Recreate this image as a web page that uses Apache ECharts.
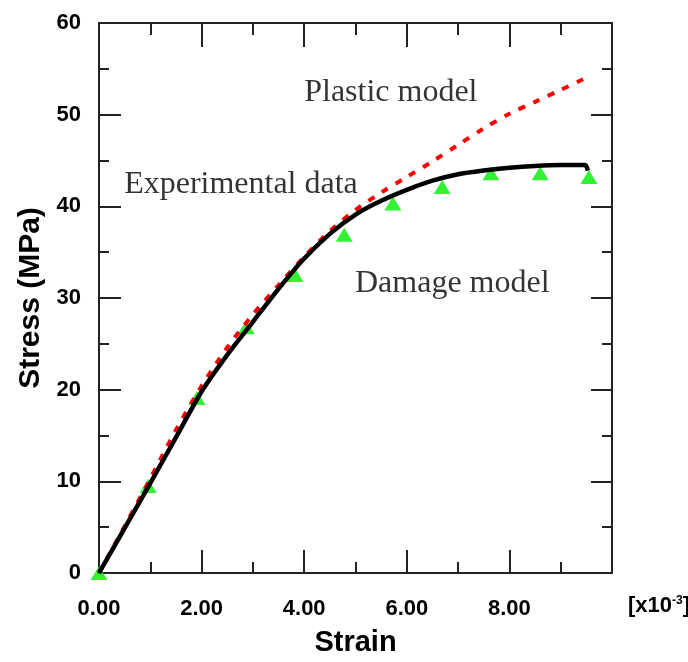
<!DOCTYPE html>
<html>
<head>
<meta charset="utf-8">
<script src="https://cdn.jsdelivr.net/npm/echarts@6/dist/echarts.min.js"></script>
<style>html,body{margin:0;padding:0;background:#fff;}#chart{width:688px;height:662px;}</style>
</head>
<body>
<div id="chart"></div>
<script>
// Damage model (solid black)
const strainDamage = [0, 0.5, 1, 1.5, 2, 2.5, 3, 3.5, 4, 4.5, 5, 5.5, 6, 6.5, 7, 7.5, 8, 8.5, 9, 9.48, 9.53];
const stressDamage = [0, 4.9, 9.8, 14.8, 19.8, 23.8, 27.4, 31.0, 34.3, 37.0, 39.1, 40.6, 41.8, 42.8, 43.5, 43.9, 44.2, 44.4, 44.5, 44.5, 43.9];
// Plastic model (red dashed)
const strainPlastic = [0, 0.5, 1, 1.5, 2, 2.5, 3, 3.5, 4, 4.5, 5, 5.5, 6, 6.5, 7, 7.5, 8, 8.5, 9, 9.45];
const stressPlastic = [0, 5.1, 10.3, 15.6, 20.4, 24.6, 28.2, 31.4, 34.5, 37.3, 39.6, 41.5, 43.2, 44.9, 46.7, 48.5, 50.1, 51.4, 52.7, 53.9];
// Experimental data (green triangles)
const strainExp = [0, 0.96, 1.91, 2.87, 3.82, 4.78, 5.73, 6.69, 7.64, 8.6, 9.55];
const stressExp = [0, 9.5, 19.1, 26.8, 32.5, 36.9, 40.3, 42.1, 43.6, 43.6, 43.2];
// Axis ticks
const xTicks = [0, 2, 4, 6, 8];
const yTicks = [0, 10, 20, 30, 40, 50, 60];
// Annotation texts and their anchor (data coords)
const annoTexts = ['Plastic model', 'Experimental data', 'Damage model'];
const annoX = [4.0, 0.49, 4.99];
const annoY = [52.4, 42.4, 31.6];

const zip = (a, b) => a.map((v, i) => [v, b[i]]);
const sansB = "'Liberation Sans', Arial, sans-serif";
const serif = "'Liberation Serif', 'Times New Roman', serif";
const axColor = '#222';

const chart = echarts.init(document.getElementById('chart'), null, {renderer: 'canvas'});
const baseAxis = {
  axisLine: {show: true, onZero: false, lineStyle: {color: axColor, width: 2}},
  splitLine: {show: false},
};
chart.setOption({
  backgroundColor: '#fff',
  animation: false,
  grid: {left: 99, right: 76, top: 23, bottom: 89},
  xAxis: [
    Object.assign({}, baseAxis, {
      type: 'value', min: 0, max: 10, interval: 2, position: 'bottom',
      axisTick: {show: true, inside: true, length: 23, lineStyle: {color: axColor, width: 2}},
      minorTick: {show: true, splitNumber: 2, length: 11, lineStyle: {color: axColor, width: 2}},
      axisLabel: {
        margin: 25, color: '#000', fontFamily: sansB, fontWeight: 'bold', fontSize: 22,
        formatter: v => (xTicks.indexOf(v) >= 0 ? v.toFixed(2) : '')
      },
      name: 'Strain', nameLocation: 'middle', nameGap: 55,
      nameTextStyle: {color: '#000', fontFamily: sansB, fontWeight: 'bold', fontSize: 29}
    }),
    Object.assign({}, baseAxis, {
      type: 'value', min: 0, max: 10, interval: 2, position: 'top',
      axisTick: {show: true, inside: true, length: 24, lineStyle: {color: axColor, width: 2}},
      minorTick: {show: true, splitNumber: 2, length: 12, lineStyle: {color: axColor, width: 2}},
      axisLabel: {show: false}
    })
  ],
  yAxis: [
    Object.assign({}, baseAxis, {
      type: 'value', min: 0, max: 60, interval: 10, position: 'left',
      axisTick: {show: true, inside: true, length: 22, lineStyle: {color: axColor, width: 2}},
      minorTick: {show: true, splitNumber: 2, length: 10, lineStyle: {color: axColor, width: 2}},
      axisLabel: {
        margin: 18, color: '#000', fontFamily: sansB, fontWeight: 'bold', fontSize: 22,
        formatter: v => (yTicks.indexOf(v) >= 0 ? String(v) : '')
      },
      name: 'Stress (MPa)', nameLocation: 'middle', nameGap: 53, nameRotate: 90,
      nameTextStyle: {color: '#000', fontFamily: sansB, fontWeight: 'bold', fontSize: 30}
    }),
    Object.assign({}, baseAxis, {
      type: 'value', min: 0, max: 60, interval: 10, position: 'right',
      axisTick: {show: true, inside: true, length: 21, lineStyle: {color: axColor, width: 2}},
      minorTick: {show: true, splitNumber: 2, length: 10, lineStyle: {color: axColor, width: 2}},
      axisLabel: {show: false}
    })
  ],
  graphic: [{
    type: 'text', left: 628, top: 595,
    style: {
      text: '{a|[x10}{s|-3}{a|]}',
      rich: {
        a: {fontFamily: sansB, fontWeight: 'bold', fontSize: 22, fill: '#000', verticalAlign: 'bottom'},
        s: {fontFamily: sansB, fontWeight: 'bold', fontSize: 12, fill: '#000', verticalAlign: 'top', padding: [0, 0, 10, 0]}
      }
    }
  }],
  series: [
    {
      type: 'scatter', name: 'Experimental data', data: zip(strainExp, stressExp),
      symbol: 'triangle', symbolSize: [17, 14], itemStyle: {color: '#00ee00'}, z: 2
    },
    {
      type: 'line', name: 'Plastic model', data: zip(strainPlastic, stressPlastic),
      showSymbol: false, smooth: 0.3, z: 3,
      lineStyle: {color: '#ff0000', width: 4, type: [7, 9]}
    },
    {
      type: 'line', name: 'Damage model', data: zip(strainDamage, stressDamage),
      showSymbol: false, smooth: 0.2, z: 4,
      lineStyle: {color: '#000', width: 4.5}
    },
    {
      type: 'scatter', name: 'annotations', symbolSize: 0, silent: true, z: 5,
      data: annoTexts.map((t, i) => ({value: [annoX[i], annoY[i]], name: t})),
      label: {
        show: true, position: 'right', distance: 0, formatter: p => p.name,
        color: '#000', fontFamily: serif, fontSize: 32
      }
    }
  ]
});
</script>
</body>
</html>
